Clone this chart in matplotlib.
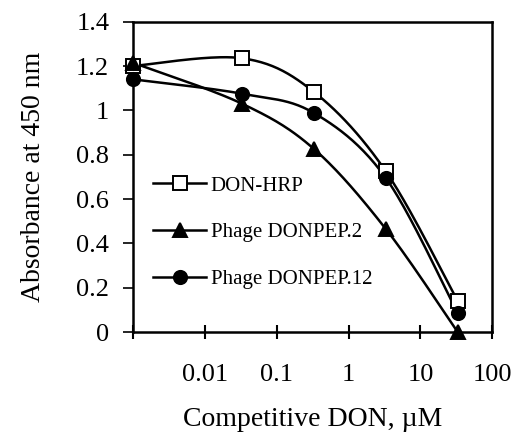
import numpy as np
import matplotlib
matplotlib.use("Agg")
import matplotlib.pyplot as plt
from matplotlib.ticker import FixedLocator, LogLocator, NullFormatter

# --- Data ---
conc_um = [0.001, 0.033, 0.33, 3.3, 33]
don_hrp = [1.20, 1.235, 1.083, 0.725, 0.14]
phage_2 = [1.215, 1.03, 0.826, 0.465, 0.0]
phage_12 = [1.14, 1.075, 0.988, 0.695, 0.085]

series_labels = ["DON-HRP", "Phage DONPEP.2", "Phage DONPEP.12"]
x_tick_vals = [0.01, 0.1, 1, 10, 100]
x_tick_labels = ["0.01", "0.1", "1", "10", "100"]
y_tick_vals = [0, 0.2, 0.4, 0.6, 0.8, 1.0, 1.2, 1.4]
y_tick_labels = ["0", "0.2", "0.4", "0.6", "0.8", "1", "1.2", "1.4"]

plt.rcParams['font.family'] = ['Liberation Serif', 'DejaVu Serif']


def smooth(xs, ys, n=40):
    """Catmull-Rom smoothing in (log x, y) space, like Excel's smoothed lines."""
    u = np.log10(xs)
    # scale so one decade ~ same size as the pixel length of it
    sx, sy = 72.0, 221.0
    pts = np.column_stack([u * sx, np.asarray(ys) * sy])
    pts = np.vstack([pts[0], pts, pts[-1]])
    out = []
    for i in range(1, len(pts) - 2):
        p0, p1, p2, p3 = pts[i - 1], pts[i], pts[i + 1], pts[i + 2]
        t = np.linspace(0, 1, n)[:, None]
        c = 0.5 * ((2 * p1) + (-p0 + p2) * t + (2 * p0 - 5 * p1 + 4 * p2 - p3) * t ** 2
                   + (-p0 + 3 * p1 - 3 * p2 + p3) * t ** 3)
        out.append(c)
    c = np.vstack(out)
    return 10 ** (c[:, 0] / sx), c[:, 1] / sy


fig = plt.figure(figsize=(5.15, 4.33), dpi=100)
ax = fig.add_axes([0.258, 0.233, 0.698, 0.717])

styles = [
    dict(marker='s', markerfacecolor='white', markersize=9.5),
    dict(marker='^', markerfacecolor='black', markersize=9.5),
    dict(marker='o', markerfacecolor='black', markersize=9.5),
]
for ys, lab, st in zip([don_hrp, phage_2, phage_12], series_labels, styles):
    sxv, syv = smooth(conc_um, ys)
    ax.plot(sxv, syv, color='black', lw=1.8, clip_on=False)
    ax.plot(conc_um, ys, linestyle='none', color='black', markeredgecolor='black',
            markeredgewidth=1.4, clip_on=False, zorder=3, **st)
    ax.plot([], [], color='black', lw=1.8, markeredgecolor='black',
            markeredgewidth=1.4, label=lab, **st)

ax.set_xscale('log')
ax.set_xlim(0.001, 100)
ax.set_ylim(0, 1.4)

ax.xaxis.set_major_locator(FixedLocator([0.001] + x_tick_vals))
ax.set_xticklabels([""] + x_tick_labels)
ax.xaxis.set_minor_locator(LogLocator(base=10, subs=np.arange(2, 10)))
ax.xaxis.set_minor_formatter(NullFormatter())
ax.set_yticks(y_tick_vals)
ax.set_yticklabels(y_tick_labels)

ax.tick_params(axis='x', which='major', direction='inout', length=10, width=1.5,
               labelsize=19, pad=18)
ax.tick_params(axis='x', which='minor', direction='out', length=4, width=1.2)
ax.tick_params(axis='y', direction='out', length=7, width=1.2, labelsize=19, pad=10)
for sp in ax.spines.values():
    sp.set_linewidth(1.8)

ax.set_xlabel("Competitive DON, \u00b5M", fontsize=20, labelpad=15)
ax.set_ylabel("Absorbance at 450 nm", fontsize=20, labelpad=22)

ax.legend(loc='upper left', bbox_to_anchor=(0.011, 0.556), frameon=False,
          fontsize=15, handlelength=2.5, handletextpad=0.25, labelspacing=1.3,
          borderaxespad=0.4)

fig.savefig("out.png", dpi=100)
